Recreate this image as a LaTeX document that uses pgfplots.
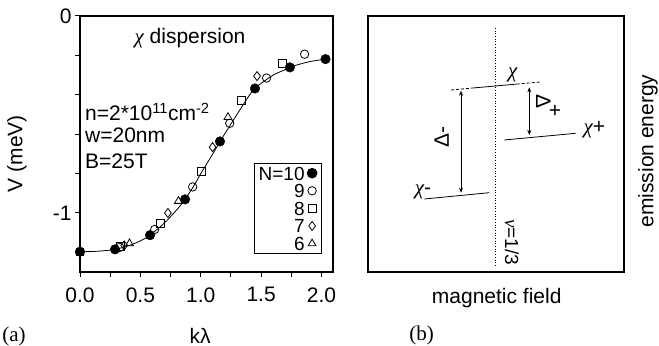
\documentclass[border=0pt]{standalone}
\usepackage{fontspec}
\setmainfont{Liberation Sans}
\newfontfamily\seriffont{Liberation Serif}
\usepackage{pgfplots}
\pgfplotsset{compat=1.18}
\usetikzlibrary{arrows.meta}
\newcommand\fsz{\fontsize{21bp}{25bp}\selectfont}
\newcommand\chisym{{\seriffont\itshape χ}}
\begin{document}
\begin{tikzpicture}[font=\fsz]
\useasboundingbox (0,0) rectangle (659bp,346bp);
\begin{axis}[
  at={(80bp,74bp)}, anchor=south west, scale only axis,
  width=253bp, height=256bp,
  xmin=0, xmax=2.095, ymin=-1.3, ymax=0,
  clip=false,
  axis line style={line width=1.2bp},
  xtick={0,0.5,1,1.5,2}, xticklabels={0.0,0.5,1.0,1.5,2.0},
  minor xtick={0.25,0.75,1.25,1.75},
  ytick={-1,0}, yticklabels={-1,0},
  minor ytick={-1.2,-0.8,-0.6,-0.4,-0.2},
  xtick pos=left, ytick pos=left,
  tick align=outside,
  major tick length=5bp, minor tick length=5bp,
  every tick/.style={black, line width=1bp},
  tick label style={font=\fsz},
  xticklabel style={yshift=-7bp},
  legend cell align=right,
  legend plot pos=right,
  reverse legend,
  legend image code/.code={\path[draw=none] (0bp,0bp) (12bp,0bp); \draw[#1] plot coordinates {(6bp,0bp)};},
  legend style={at={(rel axis cs:0.955,0.07)}, anchor=south east, draw=black, line width=1bp,
    font=\fontsize{19bp}{19bp}\selectfont, row sep=3.6bp, inner xsep=3bp, inner ysep=3bp,
    nodes={inner xsep=1.5bp, inner ysep=0bp, text height=14bp, text depth=0bp}},
]
\addplot[black, line width=0.8bp, smooth, forget plot] coordinates {
(0,-1.197)(0.1,-1.196)(0.2,-1.192)(0.29,-1.185)(0.4,-1.167)(0.5,-1.142)(0.58,-1.113)(0.7,-1.05)(0.8,-0.985)(0.87,-0.931)(0.95,-0.855)(1.0,-0.80)(1.1,-0.70)(1.16,-0.637)(1.2,-0.597)(1.3,-0.50)(1.4,-0.405)(1.45,-0.368)(1.5,-0.342)(1.6,-0.300)(1.7,-0.272)(1.74,-0.261)(1.8,-0.248)(1.9,-0.232)(2.0,-0.222)(2.03,-0.219)};
\addplot[only marks, mark=triangle, mark size=4.5bp, mark options={line width=0.8bp, fill=white}] coordinates {
(0,-1.197)(0.41,-1.155)(0.815,-0.94)(1.225,-0.514)};
\addlegendentry{6}
\addplot[only marks, mark=diamond, mark size=4.5bp, mark options={line width=0.8bp, fill=white}] coordinates {
(0,-1.197)(0.366,-1.165)(0.728,-1.0)(1.098,-0.666)(1.466,-0.305)};
\addlegendentry{7}
\addplot[only marks, mark=square, mark size=3.8bp, mark options={line width=0.8bp, fill=white}] coordinates {
(0,-1.197)(0.335,-1.17)(0.665,-1.052)(1.004,-0.79)(1.338,-0.43)(1.678,-0.241)};
\addlegendentry{8}
\addplot[only marks, mark=o, mark size=4.2bp, mark options={line width=0.8bp, fill=white}] coordinates {
(0,-1.197)(0.33,-1.175)(0.618,-1.084)(0.933,-0.868)(1.24,-0.545)(1.545,-0.315)(1.86,-0.194)};
\addlegendentry{9}
\addplot[only marks, mark=*, mark size=4.8bp, mark options={fill=black}] coordinates {
(0,-1.197)(0.29,-1.185)(0.58,-1.113)(0.87,-0.931)(1.159,-0.637)(1.449,-0.368)(1.738,-0.261)(2.033,-0.219)};
\addlegendentry{N=10}
\end{axis}
\begin{axis}[
  at={(368bp,74bp)}, anchor=south west, scale only axis,
  width=256bp, height=256bp,
  xmin=0, xmax=256, ymin=0, ymax=256,
  axis line style={line width=1.2bp},
  xtick=\empty, ytick=\empty, clip=false,
]
\draw[line width=0.7bp, dotted] (axis cs:127.7,244) -- (axis cs:127.7,7);
\draw[line width=0.8bp, densely dashed] (axis cs:83,182) -- (axis cs:103.7,183.9);
\draw[line width=0.8bp] (axis cs:103.7,183.9) -- (axis cs:148.7,187.9);
\draw[line width=0.8bp, densely dashed] (axis cs:148.7,187.9) -- (axis cs:172,190.0);
\draw[line width=0.8bp] (axis cs:136.3,132) -- (axis cs:207.7,138.7);
\draw[line width=0.8bp] (axis cs:56.3,73) -- (axis cs:121.3,79.3);
\draw[line width=0.8bp, {Stealth[length=5bp,width=4bp]}-{Stealth[length=5bp,width=4bp]}] (axis cs:93,181.3) -- (axis cs:93,79.3);
\draw[line width=0.8bp, {Stealth[length=5bp,width=4bp]}-{Stealth[length=5bp,width=4bp]}] (axis cs:161.3,184.7) -- (axis cs:161.3,137);
\end{axis}
% texts
\node at (190bp,308bp) {\chisym\ dispersion};
\node[anchor=west, inner sep=0pt] at (85bp,234bp) {n=2*10\textsuperscript{11}cm\textsuperscript{-2}};
\node[anchor=west, inner sep=0pt] at (85bp,211bp) {w=20nm};
\node[anchor=west, inner sep=0pt] at (85bp,184.5bp) {B=25T};
\node[rotate=90] at (17bp,192.5bp) {V (meV)};
\node[inner sep=0.5bp] at (200bp,10.5bp) {kλ};
\node[font=\seriffont\fontsize{21bp}{24bp}\selectfont, inner sep=1bp] at (14bp,10bp) {(a)};
\node at (496.7bp,48.3bp) {magnetic field};
\node[font=\seriffont\fontsize{21bp}{24bp}\selectfont, inner sep=1bp] at (421.7bp,11bp) {(b)};
\node[rotate=90] at (648bp,195bp) {emission energy};
% right panel labels
\node at (512.7bp,271bp) {\chisym};
\node[anchor=west] at (580bp,216bp) {\chisym+};
\node at (423bp,154bp) {\chisym-};
\node[rotate=90] at (441.7bp,209bp) {Δ-};
\node[rotate=-90] at (543.3bp,244bp) {Δ};
\node at (555bp,235bp) {+};
\node[rotate=-90, font=\fontsize{19bp}{22bp}\selectfont] at (512bp,104bp) {{\seriffont\itshape ν}=1/3};
\end{tikzpicture}
\end{document}
